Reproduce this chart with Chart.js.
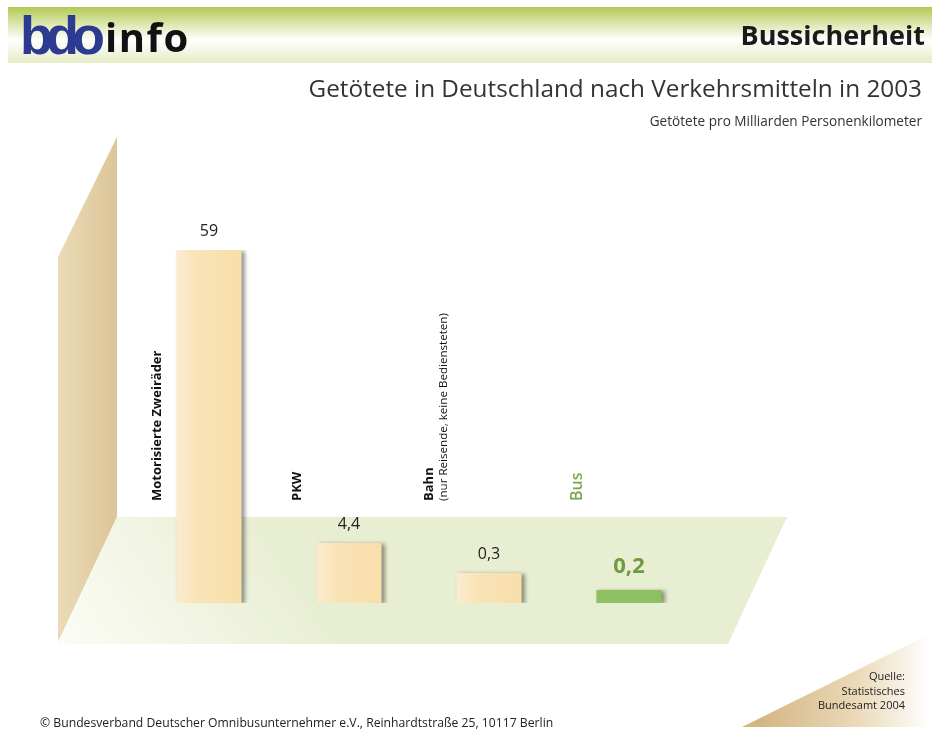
<!DOCTYPE html>
<html>
<head>
<meta charset="utf-8">
<script src="https://cdn.jsdelivr.net/npm/chart.js@4.4.1/dist/chart.umd.min.js"></script>
<style>
  html, body { margin: 0; padding: 0; background: #ffffff; }
  #wrap { position: relative; width: 932px; height: 731px; overflow: hidden; font-family: "Open Sans", sans-serif; }
  #c { position: absolute; left: 0; top: 0; }
  .t { position: absolute; white-space: nowrap; }
  #logo { left: 20px; top: 4px; font-family: "Liberation Sans", sans-serif; font-weight: 900; font-size: 54px; color: #2c3a8f; letter-spacing: -7px; }
  #info { left: 105px; top: 9px; font-family: "Open Sans", sans-serif; font-weight: 700; font-size: 40px; letter-spacing: 1.5px; color: #111; }
  #head { right: 7px; top: 16px; font-weight: 700; font-size: 27px; color: #1a1a1a; }
  #title { right: 10px; top: 71px; font-size: 24.3px; color: #333; }
  #sub { right: 10px; top: 111px; font-size: 13.6px; color: #333; }
  #src { right: 27px; top: 669px; font-size: 11px; line-height: 14.5px; text-align: right; color: #222; }
  #foot { left: 40px; top: 714px; font-size: 12.2px; color: #222; }
</style>
</head>
<body>
<div id="wrap">
  <canvas id="c" width="932" height="731"></canvas>
  <div class="t" id="logo">bdo</div>
  <div class="t" id="info">info</div>
  <div class="t" id="head">Bussicherheit</div>
  <div class="t" id="title">Getötete in Deutschland nach Verkehrsmitteln in 2003</div>
  <div class="t" id="sub">Getötete pro Milliarden Personenkilometer</div>
  <div class="t" id="src">Quelle:<br>Statistisches<br>Bundesamt 2004</div>
  <div class="t" id="foot">© Bundesverband Deutscher Omnibusunternehmer e.V., Reinhardtstraße 25, 10117 Berlin</div>
</div>
<script>
// Categories (transport modes)
const categories = ["Motorisierte Zweiräder", "PKW", "Bahn", "Bus"];
const categoryNotes = ["", "", "(nur Reisende, keine Bediensteten)", ""];
// Deaths per billion passenger-kilometres (as printed)
const values = [59, 4.4, 0.3, 0.2];
const valueLabels = ["59", "4,4", "0,3", "0,2"];
// Bar lengths as drawn in the (not-to-scale) pictogram, % of tallest bar
const drawnHeights = [100, 17, 8.5, 3.7];

const cream = '#f8dfab';
const green = '#8cc063';

const backdrop = {
  id: 'backdrop',
  beforeDraw(chart) {
    const ctx = chart.ctx;
    ctx.save();
    // header band
    let g = ctx.createLinearGradient(0, 7, 0, 63);
    g.addColorStop(0, '#b2c952');
    g.addColorStop(0.35, '#e3ebbd');
    g.addColorStop(0.6, '#ffffff');
    g.addColorStop(1, '#e4ecc3');
    ctx.fillStyle = g;
    ctx.fillRect(8, 7, 924, 56);
    // back wall
    g = ctx.createLinearGradient(58, 0, 117, 0);
    g.addColorStop(0, '#ebdbb6');
    g.addColorStop(1, '#dcc598');
    ctx.fillStyle = g;
    ctx.beginPath();
    ctx.moveTo(117, 137); ctx.lineTo(117, 517); ctx.lineTo(58, 642); ctx.lineTo(58, 257);
    ctx.closePath(); ctx.fill();
    // floor
    g = ctx.createLinearGradient(70, 650, 260, 520);
    g.addColorStop(0, '#fbfcf5');
    g.addColorStop(1, '#e8eed2');
    ctx.fillStyle = g;
    ctx.beginPath();
    ctx.moveTo(117, 517); ctx.lineTo(787, 517); ctx.lineTo(728, 644); ctx.lineTo(58, 644);
    ctx.closePath(); ctx.fill();
    // source triangle
    g = ctx.createLinearGradient(760, 0, 930, 0);
    g.addColorStop(0, '#d3b684');
    g.addColorStop(0.55, '#ead8b6');
    g.addColorStop(1, '#ffffff');
    ctx.fillStyle = g;
    ctx.beginPath();
    ctx.moveTo(742, 727); ctx.lineTo(930, 634); ctx.lineTo(930, 727);
    ctx.closePath(); ctx.fill();
    ctx.restore();
  },
  beforeDatasetsDraw(chart) {
    const ctx = chart.ctx;
    ctx.save();
    ctx.shadowColor = 'rgba(0,0,0,0.4)';
    ctx.shadowBlur = 4;
    ctx.shadowOffsetX = 3;
    ctx.shadowOffsetY = 1;
  },
  afterDatasetsDraw(chart) {
    const ctx = chart.ctx;
    ctx.restore();
    const meta = chart.getDatasetMeta(0);
    ctx.save();
    meta.data.forEach((bar, i) => {
      const isBus = i === categories.length - 1;
      // value label
      ctx.textAlign = 'center';
      ctx.textBaseline = 'bottom';
      ctx.fillStyle = isBus ? '#6f9b3f' : '#222';
      ctx.font = isBus ? '700 22px "Open Sans"' : '400 16px "Open Sans"';
      ctx.fillText(valueLabels[i], bar.x, bar.y - (isBus ? 12 : 11));
      // rotated category label
      const lx = bar.x - 52;
      ctx.save();
      ctx.textAlign = 'left';
      ctx.textBaseline = 'middle';
      if (categoryNotes[i]) {
        ctx.translate(lx - 8, 501);
        ctx.rotate(-Math.PI / 2);
        ctx.fillStyle = '#111';
        ctx.font = '700 13px "Open Sans"';
        ctx.fillText(categories[i], 0, 0);
        ctx.font = '400 11.6px "Open Sans"';
        ctx.fillText(categoryNotes[i], 0, 15);
      } else {
        ctx.translate(lx, 501);
        ctx.rotate(-Math.PI / 2);
        ctx.fillStyle = isBus ? '#7aa84a' : '#111';
        ctx.font = isBus ? '600 16px "Open Sans"' : '700 13px "Open Sans"';
        ctx.fillText(categories[i], 0, 0);
      }
      ctx.restore();
    });
    ctx.restore();
  }
};

function barFill(context) {
  const i = context.dataIndex;
  if (i === categories.length - 1) return green;
  const chart = context.chart;
  const xs = chart.scales.x;
  if (!xs || !chart.chartArea) return cream;
  const cx = xs.getPixelForValue(i);
  const g = chart.ctx.createLinearGradient(cx - 32, 0, cx + 33, 0);
  g.addColorStop(0, '#fbecd0');
  g.addColorStop(0.3, '#f9e3b7');
  g.addColorStop(1, '#f8dea9');
  return g;
}

new Chart(document.getElementById('c'), {
  type: 'bar',
  data: {
    labels: categories,
    datasets: [{
      data: drawnHeights,
      backgroundColor: barFill,
      borderWidth: 0,
      categoryPercentage: 1,
      barPercentage: 0.465
    }]
  },
  options: {
    responsive: false,
    animation: false,
    events: [],
    layout: { padding: { left: 139, right: 233, top: 250, bottom: 128 } },
    plugins: { legend: { display: false }, tooltip: { enabled: false }, title: { display: false } },
    scales: {
      x: { display: false },
      y: { display: false, min: 0, max: 100 }
    }
  },
  plugins: [backdrop]
});
</script>
</body>
</html>
